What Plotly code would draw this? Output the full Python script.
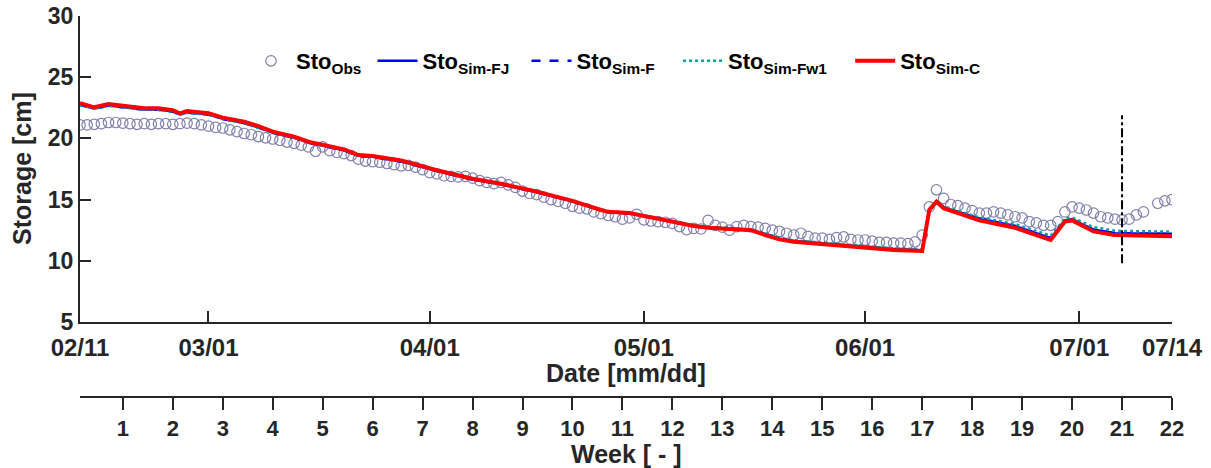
import pandas as pd
import plotly.graph_objects as go

# ---- data -----------------------------------------------------------------
start_date = "2019-02-11"

# observed storage, one value per day after start_date (day 150 missing)
obs_day = list(range(150)) + [151, 152, 153]
obs_val = [
    21.1, 21.1, 21.15, 21.2, 21.3, 21.3, 21.25, 21.2, 21.15, 21.2,
    21.15, 21.2, 21.2, 21.15, 21.2, 21.25, 21.2, 21.1, 21.0, 20.9,
    20.85, 20.7, 20.55, 20.4, 20.3, 20.15, 20.05, 19.95, 19.85, 19.7,
    19.6, 19.45, 19.3, 18.95, 19.3, 19.0, 18.85, 18.75, 18.6, 18.3,
    18.15, 18.1, 18.05, 17.95, 17.85, 17.75, 17.8, 17.65, 17.45, 17.2,
    17.1, 16.95, 16.9, 16.85, 16.9, 16.75, 16.55, 16.4, 16.3, 16.4,
    16.2, 16.0, 15.7, 15.5, 15.4, 15.2, 15.0, 14.85, 14.7, 14.45,
    14.3, 14.25, 14.0, 13.85, 13.7, 13.6, 13.4, 13.5, 13.8, 13.35,
    13.25, 13.2, 13.15, 13.05, 12.8, 12.55, 12.65, 12.6, 13.3, 12.9,
    12.75, 12.5, 12.8, 12.9, 12.8, 12.75, 12.65, 12.5, 12.4, 12.25,
    12.1, 12.25, 12.0, 11.85, 11.85, 11.75, 11.9, 11.95, 11.75, 11.7,
    11.7, 11.6, 11.5, 11.5, 11.45, 11.45, 11.4, 11.55, 12.1, 14.4,
    15.8, 15.1, 14.6, 14.5, 14.3, 14.1, 13.9, 13.9, 14.0, 13.9,
    13.75, 13.6, 13.5, 13.2, 13.1, 12.9, 12.9, 13.2, 14.0, 14.4,
    14.3, 14.15, 13.9, 13.6, 13.5, 13.4, 13.35, 13.4, 13.75, 14.0,
    14.7, 14.9, 15.0,
]

# simulated storage, sampled at these days after start_date
sim_day = [0, 2, 4, 6, 9, 11, 13, 14, 15, 18,
           20, 23, 25, 27, 30, 32, 34, 37, 39, 41,
           45, 50, 55, 59, 64, 69, 73, 74, 77, 80,
           84, 86, 88, 94, 96, 98, 100, 105, 109, 114,
           118, 119, 120, 121, 126, 131, 135, 136, 138, 139,
           142, 145, 153]
sim_fj = [22.75, 22.45, 22.68, 22.55, 22.36, 22.35, 22.2, 21.95, 22.12, 21.95,
          21.6, 21.26, 20.9, 20.47, 20.06, 19.66, 19.4, 19.03, 18.58, 18.5,
          18.12, 17.34, 16.65, 16.25, 15.6, 14.86, 14.12, 13.98, 13.88, 13.54,
          13.06, 12.85, 12.72, 12.53, 12.2, 11.8, 11.62, 11.37, 11.17, 10.95,
          10.87, 14.2, 14.86, 14.36, 13.45, 12.85, 12.05, 11.85, 13.3, 13.4,
          12.55, 12.25, 12.2]
sim_f = [22.74, 22.44, 22.67, 22.54, 22.35, 22.34, 22.19, 21.94, 22.11, 21.94,
         21.59, 21.25, 20.89, 20.46, 20.05, 19.65, 19.39, 19.02, 18.57, 18.49,
         18.11, 17.33, 16.64, 16.24, 15.59, 14.85, 14.11, 13.97, 13.87, 13.53,
         13.05, 12.84, 12.71, 12.52, 12.19, 11.79, 11.61, 11.36, 11.16, 10.94,
         10.86, 14.19, 14.85, 14.35, 13.44, 12.84, 12.04, 11.84, 13.29, 13.39,
         12.54, 12.24, 12.19]
sim_fw1 = [22.72, 22.42, 22.66, 22.52, 22.34, 22.33, 22.18, 21.93, 22.1, 21.93,
           21.58, 21.24, 20.88, 20.46, 20.05, 19.66, 19.4, 19.03, 18.58, 18.5,
           18.13, 17.36, 16.68, 16.28, 15.63, 14.9, 14.16, 14.02, 13.92, 13.58,
           13.1, 12.9, 12.77, 12.58, 12.26, 11.86, 11.68, 11.43, 11.23, 11.02,
           10.94, 14.25, 14.9, 14.45, 13.55, 13.0, 12.25, 12.05, 13.45, 13.55,
           12.75, 12.45, 12.38]
sim_c = [22.87, 22.54, 22.8, 22.65, 22.46, 22.46, 22.3, 22.05, 22.24, 22.05,
         21.7, 21.36, 21.0, 20.55, 20.14, 19.73, 19.46, 19.1, 18.64, 18.56,
         18.2, 17.4, 16.7, 16.3, 15.65, 14.9, 14.15, 14.0, 13.9, 13.55,
         13.06, 12.84, 12.7, 12.5, 12.1, 11.75, 11.56, 11.3, 11.1, 10.88,
         10.8, 14.15, 14.83, 14.3, 13.3, 12.7, 11.9, 11.7, 13.2, 13.3,
         12.4, 12.1, 12.0]

# end of the calibration period (vertical marker)
marker_day = 146
marker_span = [9.8, 21.9]

date_ticks = ["2019-02-11", "2019-03-01", "2019-04-01", "2019-05-01",
              "2019-06-01", "2019-07-01", "2019-07-14"]
date_labels = ["02/11", "03/01", "04/01", "05/01", "06/01", "07/01", "07/14"]
week_ticks = list(range(1, 23))
y_ticks = [5, 10, 15, 20, 25, 30]

# ---- figure ---------------------------------------------------------------
t0 = pd.Timestamp(start_date)


def to_dates(days):
    return [t0 + pd.Timedelta(days=d) for d in days]


def legend_name(sub, pad):
    # non-breaking spaces widen the entry so the next sample sits further right
    return "<b>Sto<sub>" + sub + "</sub>" + "\u00a0" * pad + "</b>"


FONT = "Liberation Sans, Arial, sans-serif"
INK = "#262626"

fig = go.Figure()

fig.add_trace(go.Scatter(
    x=to_dates(obs_day), y=obs_val, mode="markers",
    name=legend_name("Obs", 1),
    marker=dict(symbol="circle-open", size=10.5, color="#8080ad",
                line=dict(width=1.2, color="#8080ad")),
))
fig.add_trace(go.Scatter(
    x=to_dates(sim_day), y=sim_fj, mode="lines",
    name=legend_name("Sim-FJ", 2),
    line=dict(color="#0000ff", width=2.5),
))
fig.add_trace(go.Scatter(
    x=to_dates(sim_day), y=sim_f, mode="lines",
    name=legend_name("Sim-F", 3),
    line=dict(color="#0000ff", width=2.5, dash="dash"),
))
fig.add_trace(go.Scatter(
    x=to_dates(sim_day), y=sim_fw1, mode="lines",
    name=legend_name("Sim-Fw1", 3),
    line=dict(color="#00a0a0", width=2.5, dash="dot"),
))
fig.add_trace(go.Scatter(
    x=to_dates(sim_day), y=sim_c, mode="lines",
    name=legend_name("Sim-C", 0),
    line=dict(color="#ff0000", width=4),
))
fig.add_trace(go.Scatter(
    x=to_dates([marker_day, marker_day]), y=marker_span, mode="lines",
    showlegend=False, hoverinfo="skip",
    line=dict(color="black", width=2, dash="dashdot"),
))
# placeholder so the week axis is drawn
fig.add_trace(go.Scatter(
    x=[1], y=[None], xaxis="x2", yaxis="y", mode="markers",
    showlegend=False, hoverinfo="skip",
))

W, H = 1211, 468
m_l, m_r, m_t, m_b = 80, 39, 16, 71
plot_w = W - m_l - m_r
plot_h = H - m_t - m_b
main_bottom = 322
y_dom0 = (H - m_b - main_bottom) / plot_h


def py(pixel_y):
    """paper y coordinate of a pixel row"""
    return (H - m_b - pixel_y) / plot_h


def px(pixel_x):
    """paper x coordinate of a pixel column"""
    return (pixel_x - m_l) / plot_w


axis_common = dict(
    showgrid=False, zeroline=False, showline=True, linecolor=INK,
    linewidth=2, tickcolor=INK, tickwidth=2, automargin=False,
)


def tfont(size):
    return dict(family=FONT, size=size, color=INK, weight="bold")


title_font = dict(family=FONT, size=25, color=INK)

fig.update_layout(
    width=W, height=H,
    margin=dict(l=m_l, r=m_r, t=m_t, b=m_b, autoexpand=False),
    paper_bgcolor="white", plot_bgcolor="white",
    font=dict(family=FONT, color=INK),
    showlegend=True,
    legend=dict(
        orientation="h", x=px(246), xanchor="left", y=py(40), yanchor="top",
        font=dict(family=FONT, size=22, color="black"),
        bgcolor="rgba(0,0,0,0)", itemwidth=40,
    ),
    xaxis=dict(
        **axis_common, type="date",
        range=[date_ticks[0], date_ticks[-1]],
        tickvals=date_ticks, ticktext=date_labels,
        ticks="inside", ticklen=11, tickfont=tfont(24),
        ticklabelstandoff=3, anchor="y",
    ),
    xaxis2=dict(
        **axis_common, overlaying="x", anchor="free", position=0,
        side="bottom", range=[1 / 7, 22],
        tickvals=week_ticks, ticks="outside", ticklen=12, tickfont=tfont(22),
        ticklabelstandoff=0,
    ),
    yaxis=dict(
        **axis_common, domain=[y_dom0, 1], range=[5, 30],
        tickvals=y_ticks, ticks="inside", ticklen=11, tickfont=tfont(23),
    ),
    annotations=[
        dict(text="<b>Date [mm/dd]</b>", xref="paper", yref="paper",
             x=0.5, y=py(373), xanchor="center", yanchor="middle",
             showarrow=False, font=title_font),
        dict(text="<b>Week [ - ]</b>", xref="paper", yref="paper",
             x=0.5, y=py(454), xanchor="center", yanchor="middle",
             showarrow=False, font=title_font),
        dict(text="<b>Storage [cm]</b>", xref="paper", yref="paper",
             x=px(22), y=py(169), xanchor="center", yanchor="middle",
             textangle=-90, showarrow=False, font=title_font),
    ],
)

fig.write_html("out.html")
